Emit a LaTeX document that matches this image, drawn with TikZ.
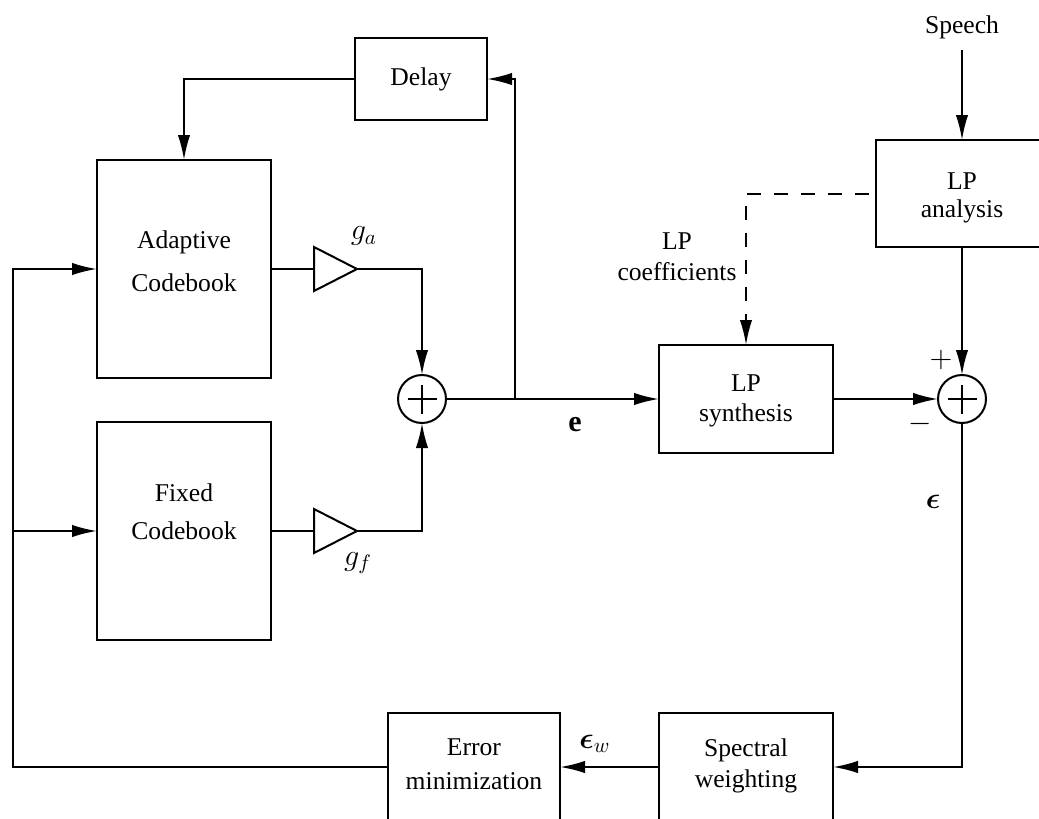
\RequirePackage{fix-cm}
\documentclass[tikz,border=0pt]{standalone}
\usepackage{amsmath,bm}
\usepackage{fontspec}
\setmainfont{Liberation Serif}
\usetikzlibrary{arrows.meta}
\begin{document}
\begin{tikzpicture}[x=0.5pt,y=-0.5pt, font=\fontsize{12.8}{15}\selectfont,
  box/.style={draw, line width=1pt, inner sep=0pt, outer sep=0pt},
  ln/.style={line width=1pt},
  arr/.style={ln, -{Latex[length=12.5pt,width=6.2pt]}},
  mathlbl/.style={font=\fontsize{15}{17}\selectfont, inner sep=0pt},
  sumnode/.style={draw, circle, line width=1pt, minimum size=24pt, inner sep=0pt, outer sep=0pt,
    path picture={\draw[line width=1pt]
      ([xshift=-7.25pt]path picture bounding box.center) -- ([xshift=7.25pt]path picture bounding box.center)
      ([yshift=-7.25pt]path picture bounding box.center) -- ([yshift=7.25pt]path picture bounding box.center);}},
  txt/.style={align=center, inner sep=0pt}]
\useasboundingbox (0,0) rectangle (1039,819);
% blocks
\node[box, minimum width=66pt, minimum height=41pt] (delay) at (421,79) {Delay};
\node[box, minimum width=87pt, minimum height=109pt] (adapt) at (184,269) {};
\node[txt, font=\fontsize{12.8}{21.5}\selectfont] (adaptT) at (184,261) {Adaptive\\Codebook};
\node[box, minimum width=87pt, minimum height=109pt] (fixed) at (184,531) {};
\node[txt, font=\fontsize{12.8}{19}\selectfont] (fixedT) at (184,512) {Fixed\\Codebook};
\node[box, minimum width=87pt, minimum height=54pt] (syn) at (746,399) {};
\node[txt, font=\fontsize{12.8}{15}\selectfont] (synT) at (746,401) {LP\\synthesis};
\node[box, minimum width=86pt, minimum height=53.5pt] (ana) at (962,193.5) {};
\node[txt, font=\fontsize{12.8}{14}\selectfont] (anaT) at (962,198) {LP\\analysis};
\node[box, minimum width=87pt, minimum height=54pt] (spec) at (746,767) {};
\node[txt, font=\fontsize{12.8}{15.5}\selectfont] (specT) at (746,766) {Spectral\\weighting};
\node[box, minimum width=86pt, minimum height=54pt] (err) at (474,767) {};
\node[txt, font=\fontsize{12.8}{17}\selectfont] (errT) at (474,764) {Error\\minimization};
\node[sumnode] (s1) at (422,399) {};
\node[sumnode] (s2) at (962,399) {};
% gains
\coordinate (gaL) at (314,269); \coordinate (gaR) at (357,269);
\coordinate (gfL) at (314,531); \coordinate (gfR) at (357,531);
\draw[ln, line join=miter] (314,247) -- (gaR) -- (314,291) -- cycle;
\draw[ln, line join=miter] (314,509) -- (gfR) -- (314,553) -- cycle;
\node[mathlbl] (ga) at (364,236) {$g_a$};
\node[mathlbl] (gf) at (358,563) {$g_f$};
% input
\node (speech) at (962,27) {Speech};
\coordinate (src) at (962,50);
\coordinate (j) at (515,399);
\coordinate (fb) at (13,531);
% connectors
\draw[arr] (src) -- (ana.north);
\draw[ln] (adapt.east) -- (gaL);
\draw[arr] (gaR) -| (s1.north);
\draw[ln] (fixed.east) -- (gfL);
\draw[arr] (gfR) -| (s1.south);
\draw[arr] (s1.east) -- (syn.west);
\draw[arr] (j) |- (delay.east);
\draw[arr] (delay.west) -| (adapt.north);
\draw[arr] (ana.south) -- (s2.north);
\draw[arr] (syn.east) -- (s2.west);
\draw[arr] (s2.south) |- (spec.east);
\draw[arr] (spec.west) -- (err.east);
\draw[arr] (err.west) -| (fb) |- (adapt.west);
\draw[arr] (fb) -- (fixed.west);
\draw[arr, dash pattern=on 7pt off 6.5pt, dash phase=10pt] (ana.west) -| (syn.north);
% labels
\node[txt, font=\fontsize{12.8}{15.5}\selectfont] (lpc) at (677,257) {LP\\coefficients};
\node[mathlbl] (e) at (575,425) {$\mathbf{e}$};
\node[mathlbl] (eps) at (933,502) {$\bm{\epsilon}$};
\node[mathlbl] (epsw) at (595,744) {$\bm{\epsilon}_w$};
\node[mathlbl] (plus) at (941,360) {$+$};
\node[mathlbl] (minus) at (920,424) {$-$};
\end{tikzpicture}
\end{document}
